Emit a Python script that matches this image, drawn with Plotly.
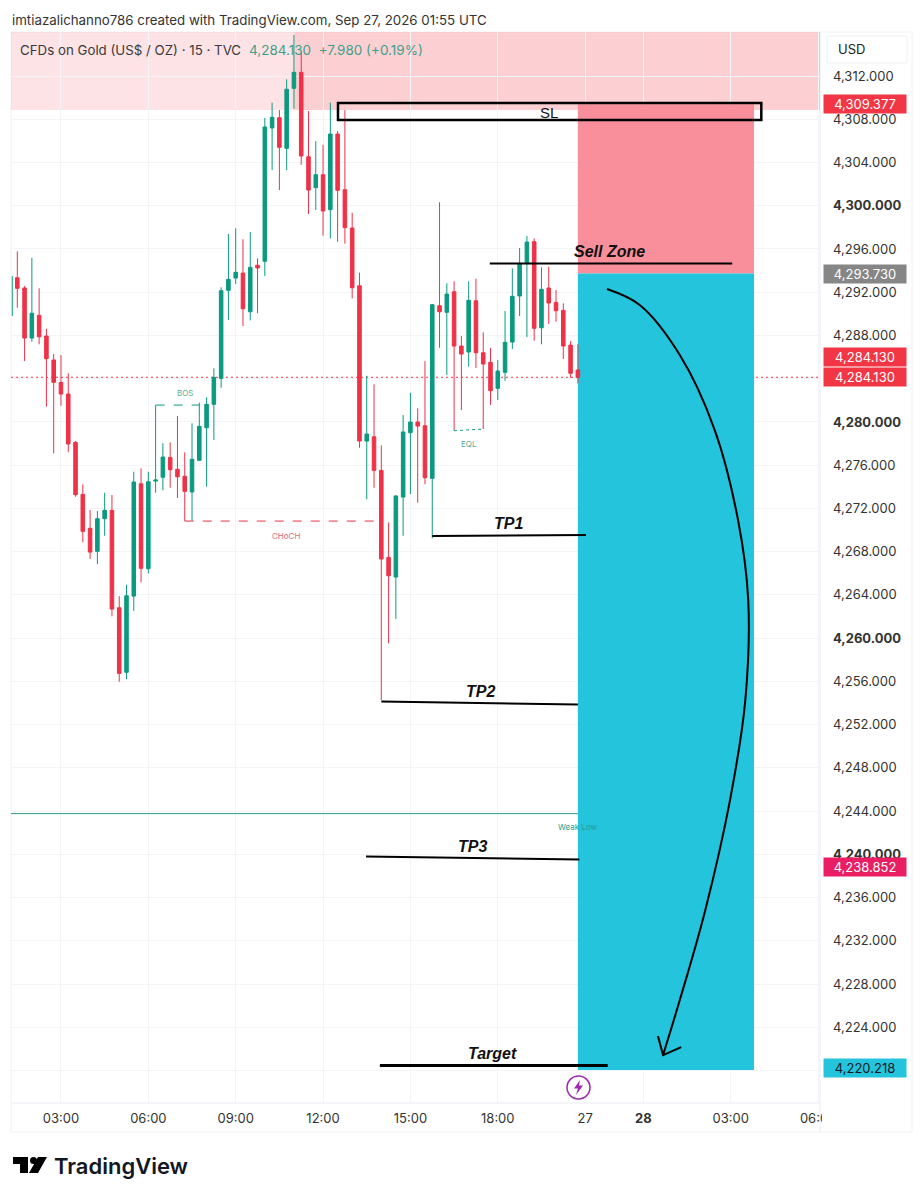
import plotly.graph_objects as go

bar_index = list(range(78))
opens = [4293.34,4292.39,4287.76,4289.86,4287.95,4285.73,4283.66,4282.58,4278.11,4273.30,
4270.16,4268.03,4271.05,4271.82,4262.81,4256.84,4263.89,4274.28,4266.42,4274.53,
4274.88,4276.72,4275.62,4274.97,4273.52,4276.45,4279.46,4281.63,4284.03,4292.17,
4293.31,4293.77,4290.19,4294.49,4294.86,4307.19,4308.14,4305.31,4310.86,4312.34,
4304.53,4301.67,4302.87,4299.63,4306.63,4301.48,4297.94,4292.60,4278.23,4278.63,
4275.52,4267.47,4265.65,4273.05,4279.00,4279.99,4279.65,4274.78,4290.75,4290.14,
4292.04,4287.02,4286.47,4291.21,4286.40,4285.51,4283.11,4284.59,4287.39,4291.65,
4294.73,4296.67,4288.71,4292.39,4291.06,4290.32,4287.11,4284.80]
highs = [4295.78,4292.57,4295.19,4292.36,4288.62,4286.28,4286.19,4284.50,4278.23,4274.23,
4271.85,4271.76,4273.45,4273.24,4263.89,4264.94,4275.39,4275.71,4275.39,4281.56,
4278.02,4278.11,4280.55,4277.19,4279.87,4281.78,4282.28,4284.96,4292.45,4297.38,
4297.91,4296.89,4297.57,4295.13,4308.11,4309.53,4308.85,4311.69,4315.79,4314.10,
4308.76,4305.99,4305.64,4309.53,4306.91,4308.85,4299.35,4293.80,4284.27,4283.48,
4277.83,4270.71,4273.24,4280.64,4282.70,4281.26,4285.63,4290.91,4300.32,4292.82,
4293.01,4287.95,4293.01,4293.25,4288.29,4286.84,4285.73,4290.26,4294.21,4296.09,
4297.20,4296.98,4294.30,4294.36,4292.20,4290.97,4287.48,4287.18]
lows = [4290.56,4285.63,4287.42,4287.18,4281.41,4277.09,4281.50,4277.19,4273.08,4268.86,
4267.32,4266.85,4269.47,4262.02,4255.97,4256.19,4262.53,4265.16,4265.99,4273.45,
4273.67,4273.91,4272.96,4270.83,4270.86,4276.38,4274.01,4278.33,4283.16,4289.43,
4292.76,4288.87,4289.40,4290.05,4293.50,4303.30,4301.45,4303.30,4308.97,4303.79,
4299.23,4299.60,4297.23,4296.98,4296.67,4296.49,4291.43,4277.61,4272.84,4273.91,
4254.27,4259.52,4261.77,4269.47,4273.33,4272.53,4274.23,4269.23,4286.86,4284.34,
4279.19,4281.10,4285.11,4284.99,4279.34,4281.56,4282.03,4283.81,4286.74,4289.80,
4287.85,4287.51,4287.18,4289.06,4289.27,4285.82,4284.09,4283.57]
closes = [4292.36,4287.76,4290.05,4287.88,4285.85,4283.66,4282.58,4277.96,4273.27,4269.88,
4267.96,4271.05,4271.82,4262.69,4256.74,4263.92,4274.44,4266.46,4274.47,4274.63,
4276.75,4275.58,4274.93,4273.58,4276.54,4279.59,4281.63,4284.13,4292.14,4293.19,
4293.84,4290.47,4294.30,4294.24,4307.28,4308.18,4305.40,4310.77,4312.34,4304.60,
4301.45,4302.87,4299.51,4306.63,4301.43,4297.97,4292.41,4278.23,4278.88,4275.52,
4267.32,4265.77,4273.15,4279.07,4279.99,4279.62,4274.84,4290.84,4290.19,4291.83,
4287.02,4286.28,4291.25,4286.40,4285.36,4282.89,4284.71,4287.36,4291.62,4294.67,
4296.64,4288.66,4292.27,4291.00,4290.29,4287.02,4284.50,4284.13]

edge_wick_x = [-0.69, -0.69]
edge_wick_y = [4293.50, 4289.80]

price_ticks = [4220 + 4 * k for k in range(24)]
major_ticks = [4240, 4260, 4280, 4300]
time_ticks = [6, 18, 30, 42, 54, 66, 78, 86, 98, 110]
time_labels = ["03:00", "06:00", "09:00", "12:00", "15:00", "18:00", "27", "<b>28</b>", "03:00", "06:00"]

levels = [
    ("Sell Zone", [64.9, 98.2], [4294.65, 4294.65], 2, 81.3, 4295.76),
    ("TP1", [57.0, 78.1], [4269.44, 4269.54], 2, 67.5, 4270.65),
    ("TP2", [50.0, 77.0], [4254.14, 4253.86], 2, 63.6, 4255.10),
    ("TP3", [47.9, 77.2], [4239.80, 4239.52], 2, 62.5, 4240.76),
    ("Target", [49.8, 81.1], [4220.46, 4220.46], 3, 65.3, 4221.61),
]
arrow_curve_x = [81.0, 85.5, 91.0, 95.8, 99.0, 100.4, 100.0, 97.9, 94.5, 91.0, 88.7]
arrow_curve_y = [4292.29, 4290.81, 4286.19, 4279.25, 4270.93, 4263.53, 4254.27, 4245.02, 4234.84, 4226.52, 4221.43]
arrow_head_x = [88.0, 88.7, 91.2]
arrow_head_y = [4223.19, 4221.43, 4222.17]

entry = 4293.730
stop = 4309.377
target = 4220.218
last = 4284.130
weak_low = 4243.77

W, H = 923, 1199
L, R, T, B = 11, 820, 32, 1103
def px(x): return (x - L) / (R - L)
def py(y): return (B - y) / (B - T)

fig = go.Figure()
UP, DOWN = "#0b9a80", "#ee3248"

fig.add_trace(go.Scatter(x=edge_wick_x, y=edge_wick_y, mode="lines", line=dict(color=UP, width=1)))
fig.add_trace(go.Scatter(x=[-0.865, 77.0], y=[weak_low, weak_low], mode="lines", line=dict(color="#2a9d8f", width=1)))
fig.add_trace(go.Candlestick(x=bar_index, open=opens, high=highs, low=lows, close=closes,
    increasing=dict(line=dict(color=UP, width=1), fillcolor=UP),
    decreasing=dict(line=dict(color=DOWN, width=1), fillcolor=DOWN), whiskerwidth=0))
fig.add_trace(go.Scatter(x=[19, 25], y=[4281.56, 4281.56], mode="lines", line=dict(color=UP, width=1, dash="dash")))
fig.add_trace(go.Scatter(x=[23, 49], y=[4270.83, 4270.83], mode="lines", line=dict(color=DOWN, width=1, dash="dash")))
fig.add_trace(go.Scatter(x=[60, 64], y=[4279.19, 4279.34], mode="lines", line=dict(color=UP, width=1, dash="dot")))
for name, lx, ly, lw, *_ in levels:
    fig.add_trace(go.Scatter(x=lx, y=ly, mode="lines", line=dict(color="#000000", width=lw), name=name))
fig.add_trace(go.Scatter(x=arrow_curve_x, y=arrow_curve_y, mode="lines",
    line=dict(color="#000000", width=2, shape="spline", smoothing=1)))
fig.add_trace(go.Scatter(x=arrow_head_x, y=arrow_head_y, mode="lines", line=dict(color="#000000", width=2)))

shapes = [
    dict(type="rect", layer="below", x0=-0.865, x1=110.26, y0=4308.85, y1=4316.07,
         fillcolor="rgba(242,54,69,0.14)", line_width=0),
    dict(type="rect", layer="below", x0=38.1, x1=110.26, y0=4308.85, y1=4316.07,
         fillcolor="rgba(242,54,69,0.11)", line_width=0),
    dict(type="line", layer="between", x0=-0.865, x1=110.26, y0=last, y1=last,
         line=dict(color="#f23645", width=1, dash="2px,3px")),
    dict(type="rect", layer="between", x0=77.0, x1=101.2, y0=entry, y1=stop, fillcolor="#f98f9a", line_width=0),
    dict(type="rect", layer="between", x0=77.0, x1=101.2, y0=4220.05, y1=entry, fillcolor="#23c4dc", line_width=0),
    dict(type="rect", layer="above", x0=44.05, x1=102.2, y0=4307.93, y1=4309.5, line=dict(color="#000000", width=2.5)),
]
def prect(x0, y0, x1, y1, **kw):
    return dict(type="rect", xref="paper", yref="paper", x0=px(x0), x1=px(x1), y0=py(y0), y1=py(y1), **kw)
def ppath(points, **kw):
    d = "M" + " L".join(f"{px(a):.5f},{py(b):.5f}" for a, b in points) + " Z"
    return dict(type="path", xref="paper", yref="paper", path=d, **kw)
FRAME = "#f0f2f6"
shapes += [
    prect(11, 32, 912, 1132, line=dict(color=FRAME, width=1), layer="below"),
    prect(820, 32, 820, 1132, line=dict(color=FRAME, width=1), layer="below"),
    prect(11, 1103, 820, 1103, line=dict(color=FRAME, width=1), layer="below"),
    prect(822, 1105, 846, 1131, fillcolor="#ffffff", line_width=0, layer="above"),
    prect(827, 36, 907, 63, line=dict(color="#eef0f4", width=1), fillcolor="rgba(255,255,255,0)"),
    dict(type="circle", xref="paper", yref="paper", x0=px(567), x1=px(590), y0=py(1076), y1=py(1099),
         line=dict(color="#9c27b0", width=1.5), fillcolor="#ffffff", layer="above"),
    ppath([(580, 1080), (574, 1088.5), (578, 1088.5), (576, 1095), (583, 1085.5), (579, 1085.5)],
          fillcolor="#9c27b0", line_width=0, layer="above"),
    ppath([(13, 1157), (28, 1157), (28, 1173), (20, 1173), (20, 1164), (13, 1164)], fillcolor="#000000", line_width=0),
    dict(type="circle", xref="paper", yref="paper", x0=px(30), x1=px(37), y0=py(1157), y1=py(1164),
         fillcolor="#000000", line_width=0),
    ppath([(38, 1157), (47, 1157), (38, 1173), (29, 1173)], fillcolor="#000000", line_width=0),
]

anns = []
def label(text, x, y, size, color, family="Inter"):
    anns.append(dict(text=text, x=x, y=y, xref="x", yref="y", showarrow=False,
                     font=dict(size=size, color=color, family=family)))
def ptext(text, x, y, size, color, weight=400):
    anns.append(dict(text=text, x=px(x), y=py(y), xref="paper", yref="paper", showarrow=False,
                     xanchor="left", yanchor="middle", font=dict(size=size, color=color, family="Inter", weight=weight)))
for name, lx, ly, lw, tx, ty in levels:
    label(f"<b><i>{name}</i></b>", tx, ty, 16, "#111111", family="Liberation Sans")
label("SL", 73.0, 4308.58, 15, "#111111", family="Liberation Sans")
label("BOS", 23.0, 4282.70, 8, "#5aa995")
label("CHoCH", 36.9, 4269.44, 8, "#d9687a")
label("EQL", 62.0, 4277.96, 8, "#5aa995")
label("Weak Low", 77.0, 4242.52, 8, "#2a9d8f")

ptext("imtiazalichanno786 created with TradingView.com, Sep 27, 2026 01:55 UTC", 10, 20, 13.3, "#333333")
ptext("CFDs on Gold (US$ / OZ) · 15 · TVC", 18, 50, 13.3, "#3a3a3a")
ptext("4,284.130&nbsp;&nbsp;+7.980 (+0.19%)", 247, 50, 13.5, "#3f9f88")
ptext("USD", 836, 49, 13, "#222222")
ptext("TradingView", 52, 1166, 22, "#131722", weight=600)

tags = [(stop, "#f23645", "#ffffff", 0), (entry, "#868686", "#ffffff", 0), (last, "#f23645", "#ffffff", 20),
        (last, "#f23645", "#ffffff", 0), (4238.852, "#e91e63", "#ffffff", 0), (target, "#23c4dc", "#131722", 0)]
for val, bg, fg, shift in tags:
    anns.append(dict(text=f"{val:,.3f}", x=px(865), y=val, xref="paper", yref="y", yshift=shift,
                     showarrow=False, xanchor="center", yanchor="middle", width=82, height=18, bgcolor=bg,
                     borderpad=0, font=dict(size=13, color=fg, family="Inter")))

def price_text(v):
    if v == 4220:
        return ""
    return f"<b>{v:,.3f}</b>" if v in major_ticks else f"{v:,.3f}"

GRID = "#f3f4f7"
fig.update_layout(
    width=W, height=H, margin=dict(l=L, r=W - R, t=T, b=H - B), autosize=False,
    paper_bgcolor="#ffffff", plot_bgcolor="#ffffff", showlegend=False, hovermode=False, boxgap=0.3,
    font=dict(family="Inter", size=13, color="#333333"),
    shapes=shapes, annotations=anns,
    xaxis=dict(range=[-0.865, 110.26], tickmode="array", tickvals=time_ticks, ticktext=time_labels,
               gridcolor=GRID, gridwidth=1, zeroline=False, showline=False, ticks="",
               rangeslider=dict(visible=False), ticklabelstandoff=6, tickfont=dict(size=13, color="#333333")),
    yaxis=dict(range=[4217.0, 4316.07], side="right", tickmode="array", tickvals=price_ticks,
               ticktext=[price_text(v) for v in price_ticks],
               gridcolor=GRID, gridwidth=1, zeroline=False, showline=False, ticks="",
               ticklabelstandoff=12, tickfont=dict(size=13, color="#333333")),
)
fig.write_html("out.html", config=dict(displayModeBar=False), post_script="document.body.style.margin='0';")
